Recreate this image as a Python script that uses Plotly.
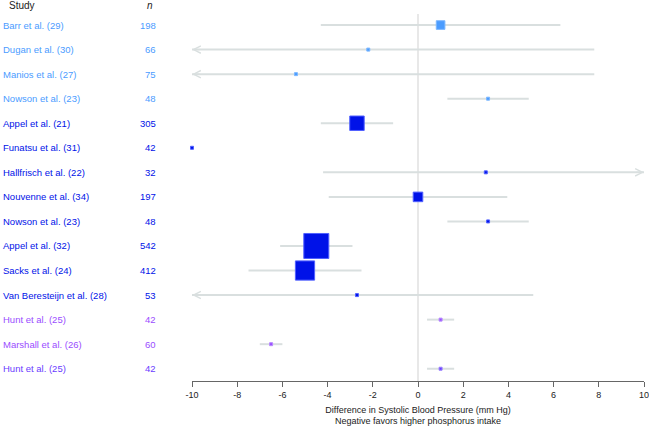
import plotly.graph_objects as go

studies = ["Barr et al. (29)", "Dugan et al. (30)", "Manios et al. (27)", "Nowson et al. (23)",
           "Appel et al. (21)", "Funatsu et al. (31)", "Hallfrisch et al. (22)", "Nouvenne et al. (34)",
           "Nowson et al. (23)", "Appel et al. (32)", "Sacks et al. (24)", "Van Beresteijn et al. (28)",
           "Hunt et al. (25)", "Marshall et al. (26)", "Hunt et al. (25)"]
n_values = [198, 66, 75, 48, 305, 42, 32, 197, 48, 542, 412, 53, 42, 60, 42]
estimate = [1.0, -2.2, -5.4, 3.1, -2.7, -10.0, 3.0, 0.0, 3.1, -4.5, -5.0, -2.7, 1.0, -6.5, 1.0]
ci_low = [-4.3, -10.0, -10.0, 1.3, -4.3, None, -4.2, -3.95, 1.3, -6.1, -7.5, -10.0, 0.4, -7.0, 0.4]
ci_high = [6.3, 7.8, 7.8, 4.9, -1.1, None, 10.0, 3.95, 4.9, -2.9, -2.5, 5.1, 1.6, -6.0, 1.6]
# CI truncated at the axis limits (drawn with arrows)
trunc_low = [False, True, True, False, False, False, False, False, False, False, False, True, False, False, False]
trunc_high = [False, False, False, False, False, False, True, False, False, False, False, False, False, False, False]
weight = [5.2, 0.6, 0.6, 0.4, 14.5, 0.3, 0.3, 6.4, 0.4, 43.5, 25.7, 0.5, 0.3, 0.6, 0.3]
group = ["a", "a", "a", "a", "b", "b", "b", "b", "b", "b", "b", "b", "c", "c", "d"]
tick_values = [-10, -8, -6, -4, -2, 0, 2, 4, 6, 8, 10]
tick_labels = ["-10", "-8", "-6", "-4", "-2", "0", "2", "4", "6", "8", "10"]

group_color = {"a": "#4b9cff", "b": "#0012e8", "c": "#9a4dff", "d": "#6a3cff"}
group_edge = {"a": "#7db8ff", "b": "#5060ff", "c": "#b88aff", "d": "#9a80ff"}

LINE = "#d9dfdf"
rows = list(range(len(studies)))

fig = go.Figure()

# confidence interval lines
xs, ys = [], []
for i in rows:
    if ci_low[i] is None:
        continue
    xs += [ci_low[i], ci_high[i], None]
    ys += [i, i, None]
fig.add_trace(go.Scatter(x=xs, y=ys, mode="lines", line=dict(color=LINE, width=2),
                         hoverinfo="skip", showlegend=False, cliponaxis=False))

# squares
for g in ["a", "b", "c", "d"]:
    idx = [i for i in rows if group[i] == g]
    sizes = [max(3.0, 25 * (weight[i] / 43.5) ** 0.5) for i in idx]
    fig.add_trace(go.Scatter(
        x=[estimate[i] for i in idx], y=idx, mode="markers",
        marker=dict(symbol="square", size=sizes, color=group_color[g], opacity=1,
                    line=dict(color=group_edge[g], width=1)),
        showlegend=False, cliponaxis=False))

annotations = []
# arrows for truncated CIs
for i in rows:
    if trunc_low[i]:
        annotations.append(dict(x=-10, y=i, ax=-9.6, ay=i, xref="x", yref="y", axref="x", ayref="y",
                                text="", showarrow=True, arrowhead=5, arrowsize=1.1, arrowwidth=1.3,
                                arrowcolor=LINE))
    if trunc_high[i]:
        annotations.append(dict(x=10, y=i, ax=9.6, ay=i, xref="x", yref="y", axref="x", ayref="y",
                                text="", showarrow=True, arrowhead=5, arrowsize=1.1, arrowwidth=1.3,
                                arrowcolor=LINE))

FONT = "Liberation Sans, Arial, sans-serif"
for i in rows:
    c = group_color[group[i]]
    annotations.append(dict(x=-0.4226, y=i, xref="paper", yref="y", text=studies[i],
                            showarrow=False, xanchor="left", yanchor="middle",
                            font=dict(family=FONT, size=9.5, color=c)))
    annotations.append(dict(x=-0.0752, y=i, xref="paper", yref="y", text=str(n_values[i]),
                            showarrow=False, xanchor="right", yanchor="middle",
                            font=dict(family=FONT, size=9.5, color=c)))

annotations.append(dict(x=-0.409, y=1.0218, xref="paper", yref="paper", text="Study",
                        showarrow=False, xanchor="left", yanchor="middle",
                        font=dict(family=FONT, size=10, color="#222222")))
annotations.append(dict(x=-0.093, y=1.0218, xref="paper", yref="paper", text="<i>n</i>",
                        showarrow=False, xanchor="center", yanchor="middle",
                        font=dict(family=FONT, size=10, color="#222222")))

fig.update_layout(
    width=649, height=427,
    margin=dict(l=192, r=5, t=14, b=46, autoexpand=False),
    paper_bgcolor="white", plot_bgcolor="white",
    annotations=annotations,
    xaxis=dict(range=[-10, 10], tickvals=tick_values, ticktext=tick_labels, automargin=False,
               ticklabeloverflow="allow",
               showgrid=False, zeroline=True, zerolinecolor="#e8e8e8", zerolinewidth=2,
               showline=True, linecolor="#666666", linewidth=1,
               ticks="outside", ticklen=5, tickcolor="#666666",
               tickfont=dict(family=FONT, size=9, color="#222222"),
               title=dict(text="Difference in Systolic Blood Pressure (mm Hg)<br>Negative favors higher phosphorus intake",
                          font=dict(family=FONT, size=9, color="#222222"), standoff=7),
               fixedrange=True),
    yaxis=dict(range=[14.5, -0.45], visible=False, showgrid=False, zeroline=False, fixedrange=True),
)

fig.write_html("out.html", config={"displayModeBar": False},
               post_script="document.body.style.margin='0px';")
